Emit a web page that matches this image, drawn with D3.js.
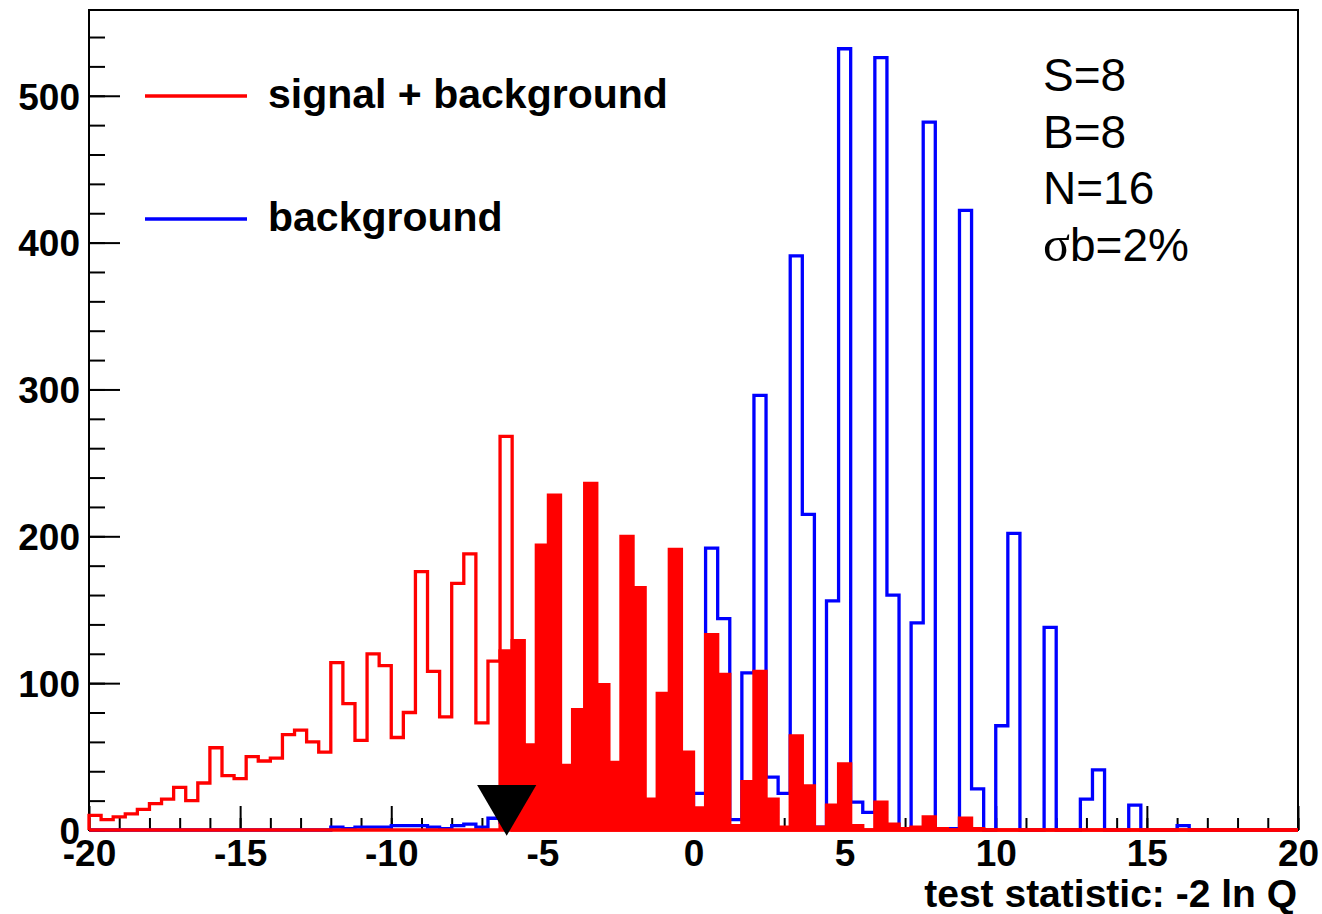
<!DOCTYPE html>
<html>
<head>
<meta charset="utf-8">
<script src="https://cdn.jsdelivr.net/npm/d3@7"></script>
<style>
body { margin: 0; background: #fff; }
svg { display: block; font-family: "Liberation Sans", Arial, sans-serif; }
</style>
</head>
<body>
<svg id="chart" width="1322" height="914"></svg>
<script>
// histogram binning: 100 bins of 0.4 between -20 and 20
const x_range = [-20, 20]
const n_bins = 100
const y_max = 558.4

// signal + background, open red histogram
const sb_line = [
  10, 7, 9, 11, 14, 18, 21, 29, 20, 32,
  56, 37, 35, 50, 47, 49, 65, 68, 60, 53,
  114, 86, 61, 120, 112, 63, 80, 176, 108, 77,
  168, 188, 73, 115, 268, 0, 0, 0, 0, 0,
  0, 0, 0, 0, 0, 0, 0, 0, 0, 0,
  0, 0, 0, 0, 0, 0, 0, 0, 0, 0,
  0, 0, 0, 0, 0, 0, 0, 0, 0, 0,
  0, 0, 0, 0, 0, 0, 0, 0, 0, 0,
  0, 0, 0, 0, 0, 0, 0, 0, 0, 0,
  0, 0, 0, 0, 0, 0, 0, 0, 0, 0
]

// signal + background above the observed value, filled red
const sb_fill = [
  0, 0, 0, 0, 0, 0, 0, 0, 0, 0,
  0, 0, 0, 0, 0, 0, 0, 0, 0, 0,
  0, 0, 0, 0, 0, 0, 0, 0, 0, 0,
  0, 0, 0, 0, 122, 129, 58, 194, 228, 44,
  82, 236, 99, 46, 200, 165, 21, 93, 191, 53,
  15, 133, 106, 3, 33, 108, 21, 2, 64, 30,
  2, 17, 45, 3, 0, 19, 4, 1, 2, 9,
  1, 0, 8, 1, 0, 0, 0, 0, 0, 0,
  0, 0, 0, 0, 0, 0, 0, 0, 0, 0,
  0, 0, 0, 0, 0, 0, 0, 0, 0, 0
]

// background only, open blue histogram
const b_line = [
  0, 0, 0, 0, 0, 0, 0, 0, 0, 0,
  0, 0, 0, 0, 0, 0, 0, 0, 0, 0,
  2, 1, 2, 2, 2, 3, 3, 3, 2, 1,
  3, 4, 2, 8, 5, 6, 3, 8, 10, 4,
  6, 12, 8, 5, 14, 12, 6, 10, 18, 12,
  25, 192, 144, 7, 107, 296, 36, 25, 391, 215,
  2, 156, 532, 19, 12, 526, 160, 1, 141, 482,
  1, 1, 422, 28, 0, 71, 202, 0, 0, 138,
  0, 0, 21, 41, 0, 0, 17, 0, 0, 0,
  3, 0, 0, 0, 0, 0, 0, 0, 0, 0
]

const x_obs = -6.18

const x_ticks = [-20, -15, -10, -5, 0, 5, 10, 15, 20]
const x_minor = d3.range(-20, 21, 1)
const y_ticks = [0, 100, 200, 300, 400, 500]
const y_minor = d3.range(0, 560, 20)

const legend_labels = ['signal + background', 'background']
const legend_colors = ['#ff0000', '#0000ff']
const info_lines = ['S=8', 'B=8', 'N=16', 'b=2%']
const x_title = 'test statistic: -2 ln Q'

const frame = { left: 89, right: 1298, top: 10, bottom: 830 }

const svg = d3.select('#chart')

const x = d3.scaleLinear().domain(x_range).range([frame.left, frame.right])
const y = d3.scaleLinear().domain([0, y_max]).range([frame.bottom, frame.top])

const bin_w = (x_range[1] - x_range[0]) / n_bins
const edges = d3.range(n_bins + 1).map(i => x_range[0] + i * bin_w)

// axes first, histograms are painted over them
const x_major = svg.append('g')
  .attr('transform', 'translate(0,' + frame.bottom + ')')
  .call(d3.axisBottom(x).tickValues(x_ticks).tickSize(-24).tickPadding(10).tickFormat(d => String(d)))
const x_min_g = svg.append('g')
  .attr('transform', 'translate(0,' + frame.bottom + ')')
  .call(d3.axisBottom(x).tickValues(x_minor).tickSize(-12).tickFormat(''))
const y_major = svg.append('g')
  .attr('transform', 'translate(' + frame.left + ',0)')
  .call(d3.axisLeft(y).tickValues(y_ticks).tickSize(-31).tickPadding(9))
const y_min_g = svg.append('g')
  .attr('transform', 'translate(' + frame.left + ',0)')
  .call(d3.axisLeft(y).tickValues(y_minor).tickSize(-16).tickFormat(''))

;[x_major, x_min_g, y_major, y_min_g].forEach(g => {
  g.select('.domain').remove()
  g.selectAll('line').attr('stroke', '#000').attr('stroke-width', 2)
  g.selectAll('text')
    .attr('font-family', '"Liberation Sans", Arial, sans-serif')
    .attr('font-size', '37px')
    .attr('font-weight', 'bold')
    .attr('fill', '#000')
})
y_major.selectAll('text').attr('dy', '0.36em')

svg.append('rect')
  .attr('x', frame.left)
  .attr('y', frame.top)
  .attr('width', frame.right - frame.left)
  .attr('height', frame.bottom - frame.top)
  .attr('fill', 'none')
  .attr('stroke', '#000')
  .attr('stroke-width', 2)

// step outline helpers
function step_points(values) {
  const pts = [[edges[0], 0]]
  values.forEach((v, i) => pts.push([edges[i], v]))
  pts.push([edges[n_bins], values[n_bins - 1]])
  pts.push([edges[n_bins], 0])
  return pts
}
const step_line = d3.line()
  .x(d => x(d[0]))
  .y(d => y(d[1]))
  .curve(d3.curveStepAfter)
const step_area = d3.area()
  .x(d => x(d[0]))
  .y0(y(0))
  .y1(d => y(d[1]))
  .curve(d3.curveStepAfter)

svg.append('path')
  .attr('d', step_line(step_points(b_line)))
  .attr('fill', 'none')
  .attr('stroke', '#0000ff')
  .attr('stroke-width', 3.3)

svg.append('path')
  .attr('d', step_line(step_points(sb_line)))
  .attr('fill', 'none')
  .attr('stroke', '#ff0000')
  .attr('stroke-width', 3.3)

svg.append('path')
  .attr('d', step_area(step_points(sb_fill)))
  .attr('fill', '#ff0000')
  .attr('stroke', '#ff0000')
  .attr('stroke-width', 3.3)

// observed value marker
const mx = x(x_obs), my = y(0)
svg.append('path')
  .attr('d', 'M' + (mx - 29.6) + ',' + (my - 45) + 'L' + (mx + 29.6) + ',' + (my - 45) + 'L' + mx + ',' + (my + 5.7) + 'Z')
  .attr('fill', '#000')

// legend
legend_labels.forEach((label, i) => {
  const ly = 96 + i * 123
  svg.append('line')
    .attr('x1', 145).attr('x2', 247)
    .attr('y1', ly).attr('y2', ly)
    .attr('stroke', legend_colors[i])
    .attr('stroke-width', 3.5)
  svg.append('text')
    .attr('x', 268)
    .attr('y', ly + 11.5)
    .attr('font-size', '41px')
    .attr('font-weight', 'bold')
    .text(label)
})

// info box text
const info = svg.append('text')
  .attr('font-size', '46px')
  .attr('fill', '#000')
info_lines.forEach((line, i) => {
  const t = info.append('tspan')
    .attr('x', 1043)
    .attr('y', 91 + i * 56.7)
  if (i === 3) {
    t.append('tspan').attr('font-family', '"Liberation Serif", serif').attr('font-size', '50px').text('σ')
    t.append('tspan').text(line)
  } else {
    t.text(line)
  }
})

svg.append('text')
  .attr('x', 1297)
  .attr('y', 907)
  .attr('text-anchor', 'end')
  .attr('font-size', '39px')
  .attr('font-weight', 'bold')
  .text(x_title)
</script>
</body>
</html>
